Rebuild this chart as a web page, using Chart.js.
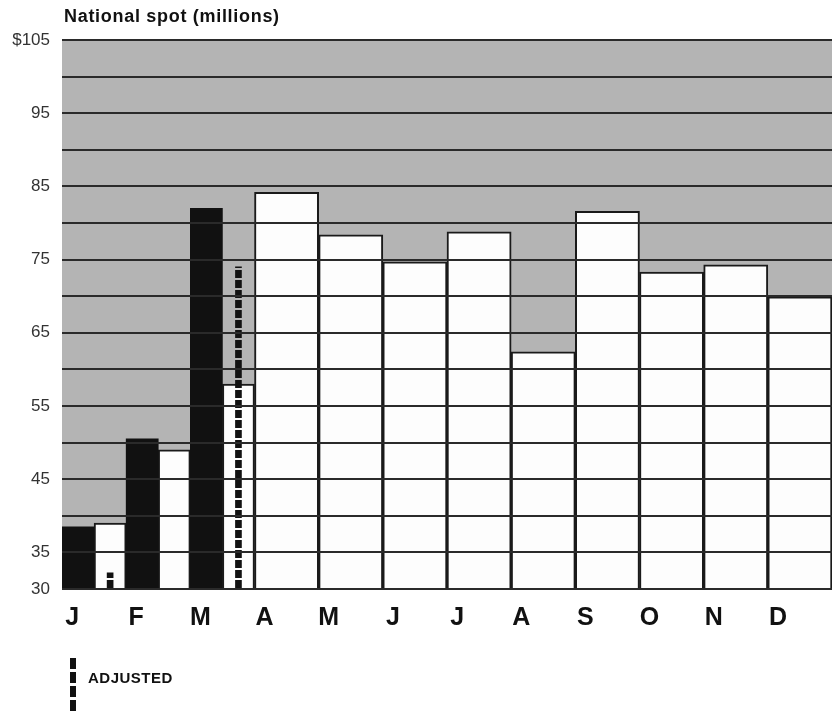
<!DOCTYPE html>
<html>
<head>
<meta charset="utf-8">
<script src="https://cdn.jsdelivr.net/npm/chart.js@4.4.1/dist/chart.umd.min.js"></script>
<style>
  body { margin: 0; background: #fff; }
  #wrap { position: relative; width: 832px; height: 714px; }
  #title { position: absolute; left: 64px; top: 6px; font: bold 18px 'Liberation Sans', Arial, sans-serif; letter-spacing: 0.7px; color: #111; }
  #legend-line { position: absolute; left: 70px; top: 658px; width: 6px; height: 56px;
    background: repeating-linear-gradient(to bottom, #111 0 11px, transparent 11px 14px); }
  #legend-text { position: absolute; left: 88px; top: 669px; font: bold 15px 'Liberation Sans', Arial, sans-serif; letter-spacing: 0.5px; color: #111; }
</style>
</head>
<body>
<div id="wrap">
  <canvas id="grafico" width="832" height="714"></canvas>
  <div id="title">National spot (millions)</div>
  <div id="legend-line"></div>
  <div id="legend-text">ADJUSTED</div>
</div>
<script>
// meses e valores
var months = ["J","F","M","A","M","J","J","A","S","O","N","D"];
var blackValues = [38.5, 50.5, 82, null, null, null, null, null, null, null, null, null];
var whiteValues = [39, 49, 58, 84.2, 78.4, 74.7, 78.8, 62.4, 81.6, 73.3, 74.3, 69.9];
var adjustedValues = [32.2, null, 74, null, null, null, null, null, null, null, null, null];
var yTickLabels = [30, 35, 45, 55, 65, 75, 85, 95, 105];

// meses com barra preta ficam divididos ao meio (eixo auxiliar com meia categoria)
var halfSlots = [];
var blackHalf = [];
var whiteHalf = [];
var adjustedHalf = [];
var whiteFull = [];
months.forEach(function (m, i) {
  var split = blackValues[i] !== null;
  halfSlots.push(m + "1", m + "2");
  blackHalf.push(blackValues[i], null);
  whiteHalf.push(null, split ? whiteValues[i] : null);
  adjustedHalf.push(null, adjustedValues[i]);
  whiteFull.push(split ? null : whiteValues[i]);
});

var ctx = document.getElementById('grafico').getContext('2d');
var pc = document.createElement('canvas');
pc.width = 6; pc.height = 10;
var pctx = pc.getContext('2d');
pctx.fillStyle = '#111';
pctx.fillRect(0, 0, 6, 8);
var dashes = ctx.createPattern(pc, 'repeat');

var grayArea = {
  id: 'grayArea',
  beforeDatasetsDraw: function (chart) {
    var a = chart.chartArea;
    chart.ctx.save();
    chart.ctx.fillStyle = '#b4b4b4';
    chart.ctx.fillRect(a.left, a.top, a.right - a.left, a.bottom - a.top);
    chart.ctx.restore();
  }
};

var font = "'Liberation Sans', Arial, sans-serif";

new Chart(ctx, {
  type: 'bar',
  data: {
    labels: months,
    datasets: [
      {
        label: "White",
        data: whiteFull,
        backgroundColor: '#fdfdfd',
        borderColor: '#1a1a1a',
        borderWidth: 2,
        barPercentage: 1,
        categoryPercentage: 1,
        grouped: false,
        order: 3
      }, {
        label: "Black",
        data: blackHalf,
        xAxisID: 'x2',
        backgroundColor: '#111',
        borderWidth: 0,
        barPercentage: 1,
        categoryPercentage: 1,
        grouped: false,
        order: 2
      }, {
        label: "White half",
        data: whiteHalf,
        xAxisID: 'x2',
        backgroundColor: '#fdfdfd',
        borderColor: '#1a1a1a',
        borderWidth: 2,
        barPercentage: 1,
        categoryPercentage: 1,
        grouped: false,
        order: 2
      }, {
        label: "Adjusted",
        data: adjustedHalf,
        xAxisID: 'x2',
        backgroundColor: dashes,
        borderWidth: 0,
        barThickness: 6,
        grouped: false,
        order: 1
      }
    ]
  },
  plugins: [grayArea],
  options: {
    responsive: false,
    animation: false,
    layout: { padding: { top: 40, right: 0, bottom: 80, left: 0 } },
    plugins: {
      legend: { display: false },
      title: { display: false },
      tooltip: { enabled: false }
    },
    scales: {
      x: {
        grid: { display: false, drawTicks: false },
        border: { display: false },
        ticks: {
          color: '#111',
          font: { family: font, size: 25, weight: 'bold' },
          padding: 14,
          labelOffset: -22,
          maxRotation: 0,
          autoSkip: false
        },
        afterFit: function (scale) { scale.height = 45; }
      },
      x2: {
        type: 'category',
        labels: halfSlots,
        display: false,
        offset: true
      },
      y: {
        min: 30,
        max: 105,
        grid: { color: '#2a2a2a', lineWidth: 2, drawTicks: false, z: 1 },
        border: { display: false },
        ticks: {
          stepSize: 5,
          color: '#333',
          padding: 12,
          font: { family: font, size: 17 },
          callback: function (v) {
            if (yTickLabels.indexOf(v) < 0) return '';
            return v === 105 ? '$' + v : v;
          }
        },
        afterFit: function (scale) { scale.width = 62; }
      }
    }
  }
});
</script>
</body>
</html>
